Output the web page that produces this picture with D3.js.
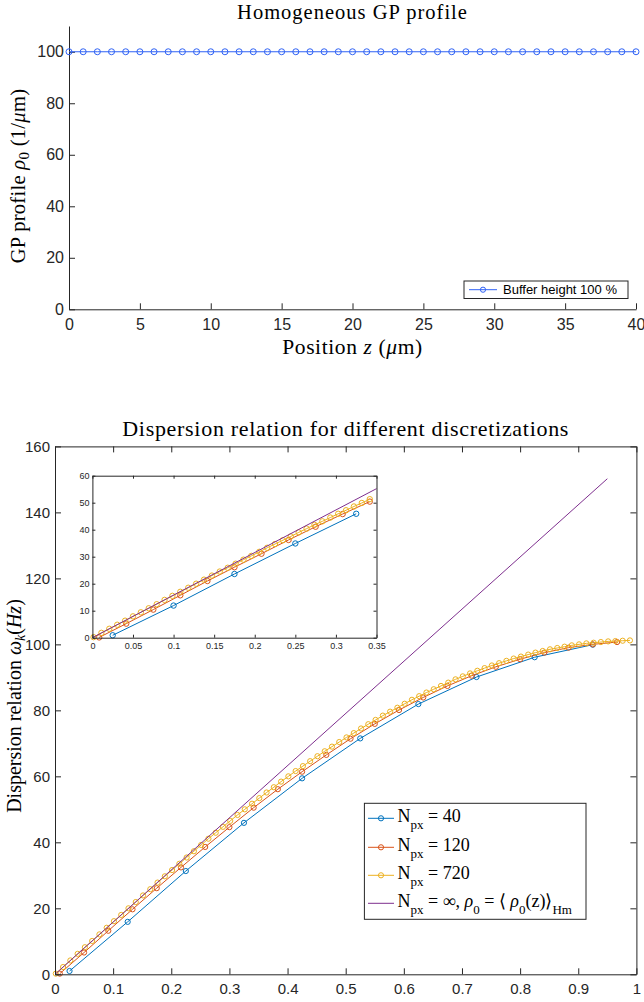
<!DOCTYPE html>
<html><head><meta charset="utf-8">
<script src="https://cdn.jsdelivr.net/npm/d3@7"></script>
<style>body{margin:0;background:#fff} svg{display:block}</style>
</head><body>
<svg id="c" width="644" height="1002"></svg>
<script>
// ---------- DATA ----------
// Top chart: homogeneous GP profile
const gpPosition = [0,1,2,3,4,5,6,7,8,9,10,11,12,13,14,15,16,17,18,19,20,21,22,23,24,25,26,27,28,29,30,31,32,33,34,35,36,37,38,39,40];
const gpProfile  = [100,100,100,100,100,100,100,100,100,100,100,100,100,100,100,100,100,100,100,100,100,100,100,100,100,100,100,100,100,100,100,100,100,100,100,100,100,100,100,100,100];
const gpLegend = "Buffer height 100 %";
const gpXTicks = [0,5,10,15,20,25,30,35,40];
const gpYTicks = [0,20,40,60,80,100];

// Bottom chart: dispersion relation (main axes)
const k40  = [0.025,0.125,0.225,0.325,0.425,0.525,0.625,0.725,0.825,0.925];
const w40  = [1.0,15.9,31.3,45.9,59.4,71.5,81.9,90.1,96.1,99.9];
const k120 = [0.0083,0.05,0.0917,0.1333,0.175,0.2167,0.2583,0.3,0.3417,0.3833,0.425,0.4667,0.5083,0.55,0.5917,0.6333,0.675,0.7167,0.7583,0.8,0.8417,0.8833,0.925,0.9667];
const w120 = [0.2,6.6,13.2,19.7,26.1,32.4,38.6,44.6,50.5,56.1,61.4,66.5,71.4,75.9,80.1,83.9,87.4,90.5,93.2,95.5,97.5,99.0,100.0,100.7];
const k720 = [0.0014,0.0139,0.0264,0.0389,0.0514,0.0639,0.0764,0.0889,0.1014,0.1139,0.1264,0.1389,0.1514,0.1639,0.1764,0.1889,0.2014,0.2139,0.2264,0.2389,0.2514,0.2639,0.2764,0.2889,0.3014,0.3139,0.3264,0.3389,0.3514,0.3639,0.3764,0.3889,0.4014,0.4139,0.4264,0.4389,0.4514,0.4639,0.4764,0.4889,0.5014,0.5139,0.5264,0.5389,0.5514,0.5639,0.5764,0.5889,0.6014,0.6139,0.6264,0.6389,0.6514,0.6639,0.6764,0.6889,0.7014,0.7139,0.7264,0.7389,0.7514,0.7639,0.7764,0.7889,0.8014,0.8139,0.8264,0.8389,0.8514,0.8639,0.8764,0.8889,0.9014,0.9139,0.9264,0.9389,0.9514,0.9639,0.9764,0.9889];
const w720 = [0.2,2.2,4.2,6.2,8.2,10.1,12.1,14.1,16.1,18.0,20.0,21.9,23.9,25.8,27.8,29.7,31.6,33.5,35.4,37.3,39.2,41.1,42.9,44.7,46.5,48.3,50.0,51.7,53.4,55.1,56.7,58.4,60.0,61.6,63.1,64.6,66.1,67.6,69.0,70.4,71.8,73.1,74.5,75.8,77.1,78.4,79.6,80.8,82.0,83.2,84.3,85.4,86.4,87.4,88.4,89.4,90.3,91.2,92.0,92.8,93.6,94.3,95.0,95.7,96.3,96.9,97.5,98.0,98.5,98.9,99.3,99.7,100.0,100.3,100.5,100.7,100.9,101.0,101.1,101.2];
const kCont = [0,0.95];
const wCont = [0,150.2];
const dispXTicks = [0,0.1,0.2,0.3,0.4,0.5,0.6,0.7,0.8,0.9,1];
const dispYTicks = [0,20,40,60,80,100,120,140,160];

// Inset (zoom on small k)
const ik40  = [0.025,0.1,0.175,0.25,0.325];
const iw40  = [0.9,11.9,23.6,34.9,45.9];
const ik120 = [0.0083,0.0417,0.075,0.1083,0.1417,0.175,0.2083,0.2417,0.275,0.3083,0.3417];
const iw120 = [0.1,5.2,10.4,15.7,21.0,26.1,31.1,36.2,41.1,45.8,50.4];
const ik720 = [0.0014,0.0111,0.0208,0.0306,0.0403,0.05,0.0597,0.0694,0.0792,0.0889,0.0986,0.1083,0.1181,0.1278,0.1375,0.1472,0.1569,0.1667,0.1764,0.1861,0.1958,0.2056,0.2153,0.225,0.2347,0.2444,0.2542,0.2639,0.2736,0.2833,0.2931,0.3028,0.3125,0.3222,0.3319,0.3417];
const iw720 = [0.2,1.8,3.3,4.8,6.3,7.9,9.4,10.9,12.4,14.0,15.5,17.0,18.5,20.0,21.5,23.0,24.5,25.9,27.4,28.9,30.3,31.8,33.3,34.7,36.1,37.5,39.0,40.4,41.8,43.1,44.5,45.9,47.2,48.6,49.9,51.3];
const ikCont = [0,0.35];
const iwCont = [0,55.2];
const insetXTicks = [0,0.05,0.1,0.15,0.2,0.25,0.3,0.35];
const insetYTicks = [0,10,20,30,40,50,60];

const seriesColors = ["#0072BD","#D95319","#EDB120","#7E2F8E"];
const gpColor = "#2f62f5";

// ---------- DRAW ----------
const svg = d3.select("#c");
const AX = "#262626";
const SANS = "'Liberation Sans', Arial, sans-serif";
const SERIF = "'Liberation Serif', 'Times New Roman', serif";

function styleAxis(g, fs) {
  g.selectAll("path.domain").attr("stroke", AX).attr("stroke-width", 1);
  g.selectAll(".tick line").attr("stroke", AX).attr("stroke-width", 1);
  g.selectAll(".tick text").attr("fill", AX).style("font-family", SANS).style("font-size", fs + "px");
}
function fmtNum(d) { return String(+d.toFixed(2)); }

// ===== Top chart =====
const T = {l: 69, r: 636, t: 26, b: 309.3};
const tx = d3.scaleLinear().domain([0, 40]).range([T.l, T.r]);
const ty = d3.scaleLinear().domain([0, 110]).range([T.b, T.t]);

const gTx = svg.append("g").attr("transform", `translate(0,${T.b})`)
  .call(d3.axisBottom(tx).tickValues(gpXTicks).tickSizeInner(-6).tickSizeOuter(0).tickPadding(9).tickFormat(fmtNum));
styleAxis(gTx, 16);
const gTy = svg.append("g").attr("transform", `translate(${T.l},0)`)
  .call(d3.axisLeft(ty).tickValues(gpYTicks).tickSizeInner(-6).tickSizeOuter(0).tickPadding(5).tickFormat(fmtNum));
styleAxis(gTy, 16);

const gpData = gpPosition.map((z, i) => [z, gpProfile[i]]);
svg.append("path").datum(gpData)
  .attr("d", d3.line().x(d => tx(d[0])).y(d => ty(d[1])))
  .attr("fill", "none").attr("stroke", gpColor).attr("stroke-width", 1);
svg.append("g").selectAll("circle").data(gpData).join("circle")
  .attr("cx", d => tx(d[0])).attr("cy", d => ty(d[1])).attr("r", 3)
  .attr("fill", "none").attr("stroke", gpColor).attr("stroke-width", 1);

// title
svg.append("text").attr("x", (T.l + T.r) / 2).attr("y", 18.5).attr("text-anchor", "middle")
  .style("font-family", SERIF).style("font-size", "20.5px").style("letter-spacing", "1px").attr("fill", "#000")
  .text("Homogeneous GP profile");
// x label
{
  const t = svg.append("text").attr("x", (T.l + T.r) / 2).attr("y", 354).attr("text-anchor", "middle")
    .style("font-family", SERIF).style("font-size", "21.5px").style("letter-spacing", "0.6px").attr("fill", "#000");
  t.append("tspan").text("Position ");
  t.append("tspan").style("font-style", "italic").text("z");
  t.append("tspan").text(" (");
  t.append("tspan").style("font-style", "italic").text("μ");
  t.append("tspan").text("m)");
}
// y label
{
  const t = svg.append("text").attr("transform", `translate(25,176) rotate(-90)`).attr("text-anchor", "middle")
    .style("font-family", SERIF).style("font-size", "20.5px").style("letter-spacing", "0.3px").attr("fill", "#000");
  t.append("tspan").text("GP profile ");
  t.append("tspan").style("font-style", "italic").text("ρ");
  t.append("tspan").attr("dy", 4).style("font-size", "15px").text("0");
  t.append("tspan").attr("dy", -4).text("  (1/");
  t.append("tspan").style("font-style", "italic").text("μ");
  t.append("tspan").text("m)");
}
// legend
{
  const lg = svg.append("g");
  lg.append("rect").attr("x", 464).attr("y", 281).attr("width", 164).attr("height", 17.5)
    .attr("fill", "#fff").attr("stroke", AX).attr("stroke-width", 1);
  lg.append("line").attr("x1", 469).attr("x2", 497).attr("y1", 289.7).attr("y2", 289.7)
    .attr("stroke", gpColor).attr("stroke-width", 1);
  lg.append("circle").attr("cx", 483).attr("cy", 289.7).attr("r", 2.6)
    .attr("fill", "none").attr("stroke", gpColor).attr("stroke-width", 1);
  lg.append("text").attr("x", 503).attr("y", 294.3).style("font-family", SANS).style("font-size", "13px")
    .attr("fill", "#000").text(gpLegend);
}

// ===== Bottom chart =====
const B = {l: 55, r: 636.4, t: 446.4, b: 974.3};
const bx = d3.scaleLinear().domain([0, 1]).range([B.l, B.r]);
const by = d3.scaleLinear().domain([0, 160]).range([B.b, B.t]);

function boxAxes(x, y, box, xt, yt, fs, tick, padX, padY) {
  const g1 = svg.append("g").attr("transform", `translate(0,${box.b})`)
    .call(d3.axisBottom(x).tickValues(xt).tickSizeInner(-tick).tickSizeOuter(0).tickPadding(padX).tickFormat(fmtNum));
  styleAxis(g1, fs);
  const g2 = svg.append("g").attr("transform", `translate(${box.l},0)`)
    .call(d3.axisLeft(y).tickValues(yt).tickSizeInner(-tick).tickSizeOuter(0).tickPadding(padY).tickFormat(fmtNum));
  styleAxis(g2, fs);
  const g3 = svg.append("g").attr("transform", `translate(0,${box.t})`)
    .call(d3.axisTop(x).tickValues(xt).tickSizeInner(-tick).tickSizeOuter(0).tickFormat(""));
  styleAxis(g3, fs);
  const g4 = svg.append("g").attr("transform", `translate(${box.r},0)`)
    .call(d3.axisRight(y).tickValues(yt).tickSizeInner(-tick).tickSizeOuter(0).tickFormat(""));
  styleAxis(g4, fs);
}

function drawSeries(g, x, y, ks, ws, color, r, withMarkers) {
  const data = ks.map((k, i) => [k, ws[i]]);
  g.append("path").datum(data)
    .attr("d", d3.line().x(d => x(d[0])).y(d => y(d[1])))
    .attr("fill", "none").attr("stroke", color).attr("stroke-width", 1);
  if (withMarkers) {
    g.append("g").selectAll("circle").data(data).join("circle")
      .attr("cx", d => x(d[0])).attr("cy", d => y(d[1])).attr("r", r)
      .attr("fill", "none").attr("stroke", color).attr("stroke-width", 1);
  }
}

svg.append("rect").attr("x", B.l).attr("y", B.t).attr("width", B.r - B.l).attr("height", B.b - B.t).attr("fill", "#fff");
const gMain = svg.append("g");
drawSeries(gMain, bx, by, k40, w40, seriesColors[0], 2.6, true);
drawSeries(gMain, bx, by, k120, w120, seriesColors[1], 2.6, true);
drawSeries(gMain, bx, by, k720, w720, seriesColors[2], 2.6, true);
drawSeries(gMain, bx, by, kCont, wCont, seriesColors[3], 2.6, false);
boxAxes(bx, by, B, dispXTicks, dispYTicks, 15, 6, 9, 5);

// title
svg.append("text").attr("x", (B.l + B.r) / 2).attr("y", 436).attr("text-anchor", "middle")
  .style("font-family", SERIF).style("font-size", "22px").style("letter-spacing", "0.7px").attr("fill", "#000")
  .text("Dispersion relation for different discretizations");
// y label
{
  const t = svg.append("text").attr("transform", `translate(21,706) rotate(-90)`).attr("text-anchor", "middle")
    .style("font-family", SERIF).style("font-size", "20px").attr("fill", "#000");
  t.append("tspan").text("Dispersion relation ");
  t.append("tspan").style("font-style", "italic").text("ω");
  t.append("tspan").attr("dy", 4).style("font-size", "14px").style("font-style", "italic").text("k");
  t.append("tspan").attr("dy", -4).text("(");
  t.append("tspan").style("font-style", "italic").text("Hz");
  t.append("tspan").text(")");
}

// ===== Inset =====
const I = {l: 92.4, r: 376.5, t: 475.7, b: 637.7};
const ix = d3.scaleLinear().domain([0, 0.35]).range([I.l, I.r]);
const iy = d3.scaleLinear().domain([0, 60]).range([I.b, I.t]);
svg.append("rect").attr("x", I.l).attr("y", I.t).attr("width", I.r - I.l).attr("height", I.b - I.t).attr("fill", "#fff");
const gIn = svg.append("g");
drawSeries(gIn, ix, iy, ik40, iw40, seriesColors[0], 2.7, true);
drawSeries(gIn, ix, iy, ik120, iw120, seriesColors[1], 2.7, true);
drawSeries(gIn, ix, iy, ik720, iw720, seriesColors[2], 2.7, true);
drawSeries(gIn, ix, iy, ikCont, iwCont, seriesColors[3], 2.7, false);
boxAxes(ix, iy, I, insetXTicks, insetYTicks, 9, 3, 5, 3);

// ===== Legend (bottom) =====
{
  const L = {x: 364.4, y: 803.3, w: 221.6, h: 116};
  const lg = svg.append("g");
  lg.append("rect").attr("x", L.x).attr("y", L.y).attr("width", L.w).attr("height", L.h)
    .attr("fill", "#fff").attr("stroke", AX).attr("stroke-width", 1);
  const rowsY = [818.3, 847.3, 875.3, 903.3];
  const labels = [
    [["N"], ["px", "sub"], [" = 40"]],
    [["N"], ["px", "sub"], [" = 120"]],
    [["N"], ["px", "sub"], [" = 720"]],
    [["N"], ["px", "sub"], [" = ∞, "], ["ρ", "it"], ["0", "sub"], [" = ⟨ "], ["ρ", "it"], ["0", "sub"], ["(z)⟩"], ["Hm", "sub"]]
  ];
  rowsY.forEach((yy, i) => {
    lg.append("line").attr("x1", 368).attr("x2", 394).attr("y1", yy).attr("y2", yy)
      .attr("stroke", seriesColors[i]).attr("stroke-width", 1);
    if (i < 3) lg.append("circle").attr("cx", 381).attr("cy", yy).attr("r", 2.6)
      .attr("fill", "none").attr("stroke", seriesColors[i]).attr("stroke-width", 1);
    const t = lg.append("text").attr("x", 397.5).attr("y", yy + 3.8)
      .style("font-family", SERIF).style("font-size", "18px").attr("fill", "#000");
    let down = false;
    labels[i].forEach(([s, kind]) => {
      const ts = t.append("tspan").text(s);
      if (kind === "sub") {
        ts.style("font-size", "13px");
        if (!down) { ts.attr("dy", 7); down = true; }
      } else {
        if (down) { ts.attr("dy", -7); down = false; }
        if (kind === "it") ts.style("font-style", "italic");
      }
    });
  });
}
</script>
</body></html>
